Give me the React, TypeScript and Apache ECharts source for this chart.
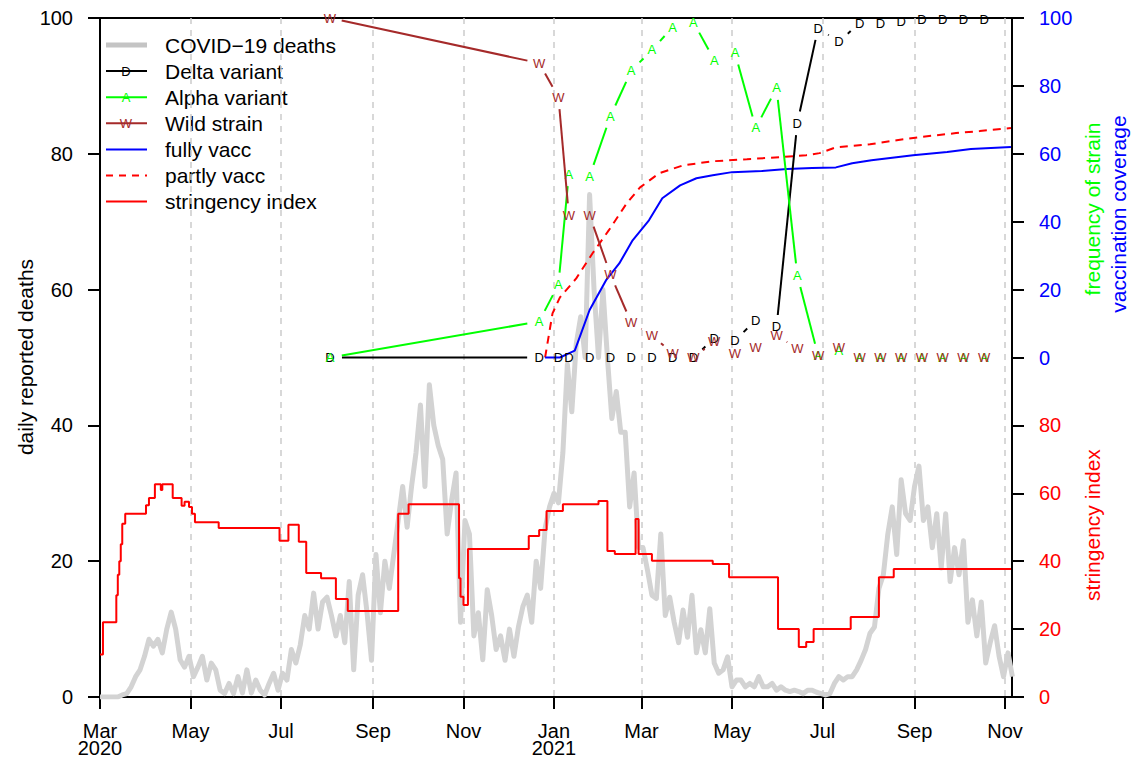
import React, { useEffect, useRef } from "react";
import * as echarts from "echarts";

const FONT = '"Liberation Sans", Arial, Helvetica, sans-serif';

// ---------- data ----------
const monthTicks = ["2020-03-01","2020-05-01","2020-07-01","2020-09-01","2020-11-01","2021-01-01","2021-03-01","2021-05-01","2021-07-01","2021-09-01","2021-11-01"];
const monthLabels = ["Mar\n2020","May","Jul","Sep","Nov","Jan\n2021","Mar","May","Jul","Sep","Nov"];
const leftTicks = [0, 20, 40, 60, 80, 100];
const stringencyTicks = [0, 20, 40, 60, 80];
const coverageTicks = [0, 20, 40, 60, 80, 100];

// daily reported deaths, read every 3 days from 2020-03-01
const deathsStart = "2020-03-01";
const deathsStepDays = 3;
const deaths = [
  0,0,0,0,0,0.3,0.5,1.5,3,4,
  6,8.5,7.5,8.5,6.5,10,12.5,10,5.5,4.4,
  6,3,4.4,6,2.5,5,4,1,0.5,2,
  0.5,3,0.6,4,0.6,2.5,1,0.3,2,3.5,
  1,3.5,2.5,7,5,7.7,12,10,15.3,10,
  14,14.7,12,9,12,8,17,4,15,18,
  12.4,5.4,21,12.4,20,16,21,26,31,25,
  31,36,43,31,46,40,37,35,24,29,
  33,11,26,24,9,12.4,5.5,15.8,12,7,
  9,5.4,10,6,10.3,13.3,15,11,20,16,
  24.8,28,30,28.6,36,49,42,52,56,50,
  74,60,50,60,50,41,45,39,39,28,
  33,22,22,18.7,15,14.5,24,12,14.7,11,
  8,12.8,8.8,15,6.5,9.9,6.5,13,5,3.5,
  4,5.9,1.5,2.5,2.5,1.5,2,1.5,3,1.5,
  1.5,2,1,1.5,1,0.8,1,0.8,0.5,1,
  1,0.7,0.5,0.3,0.5,2,3,2.5,3,3,
  4,5.4,7,9.4,10.3,16,18,24,28,21,
  32,27,26,31,34,26,28,22,27,19,
  27,17,22,18,23,11,14.3,9,14,5,
  8,10.5,6,3,6.5,3
];

// stringency index (change points)
const stringencyDates = [
  "2020-03-01","2020-03-03","2020-03-12","2020-03-13","2020-03-14","2020-03-15","2020-03-16","2020-03-18",
  "2020-04-01","2020-04-03","2020-04-07","2020-04-11","2020-04-12","2020-04-19","2020-04-25","2020-04-27",
  "2020-04-30","2020-05-02","2020-05-04","2020-05-20","2020-06-30","2020-07-06","2020-07-13","2020-07-18",
  "2020-07-28","2020-08-07","2020-08-15","2020-09-18","2020-09-25","2020-10-29","2020-10-30","2020-11-01",
  "2020-11-04","2020-12-15","2020-12-22","2020-12-27","2021-01-07","2021-01-31","2021-02-06","2021-02-11",
  "2021-02-25","2021-02-27","2021-03-08","2021-04-18","2021-04-29","2021-06-01","2021-06-15","2021-06-20",
  "2021-06-25","2021-07-20","2021-08-08","2021-08-18","2021-11-05"
];
const stringencyValues = [
  12.5,22,30,36,40,45,51,54,
  56.5,58.6,62.7,61,62.7,58.6,56.3,57.5,
  56,54,51.5,49.8,46,50.7,45.7,36.5,
  35,28.9,25.3,54,56.8,35,29.5,27.1,
  43.6,47.4,49.2,54.8,56.8,57.7,43,42.1,
  52.4,42.1,40.1,39.2,35.3,20,14.7,16.2,
  20,23.6,35.3,37.7,37.7
];

// vaccination coverage (%)
const fullyDates = ["2020-12-26","2021-01-05","2021-01-15","2021-01-25","2021-02-05","2021-02-14","2021-02-23","2021-03-06","2021-03-15","2021-03-27","2021-04-07","2021-04-18","2021-05-01","2021-05-21","2021-06-07","2021-06-24","2021-07-10","2021-07-21","2021-08-03","2021-08-31","2021-09-23","2021-10-09","2021-11-05"];
const fullyValues = [0,0,2,14,22.7,27.7,34.5,40.4,46.9,50.7,52.8,53.7,54.6,54.9,55.5,55.8,56,57.2,58.1,59.6,60.5,61.4,62];
const partlyDates = ["2020-12-26","2020-12-31","2021-01-05","2021-01-16","2021-01-27","2021-02-07","2021-02-19","2021-02-28","2021-03-13","2021-03-29","2021-04-18","2021-05-11","2021-06-02","2021-06-20","2021-06-29","2021-07-10","2021-08-02","2021-08-20","2021-09-04","2021-09-29","2021-10-15","2021-11-05"];
const partlyValues = [0,13,17.7,23.3,30.7,37.5,45.4,50.1,54.3,56.6,57.8,58.4,59,59.6,60.2,61.9,62.8,64,64.9,66.1,66.7,67.6];

// frequency of strain (%)
const variantDates = ["2020-08-03","2020-12-22","2021-01-04","2021-01-11","2021-01-25","2021-02-08","2021-02-22","2021-03-08","2021-03-22","2021-04-05","2021-04-19","2021-05-03","2021-05-17","2021-05-31","2021-06-14","2021-06-28","2021-07-12","2021-07-26","2021-08-09","2021-08-23","2021-09-06","2021-09-20","2021-10-04","2021-10-18"];
const deltaValues = [0,0,0,0,0,0,0,0,0,0,5.6,5,11,9,69,97,93,98.5,98.5,99,99.5,99.5,99.5,99.5];
const alphaValues = [0,10.6,21.5,54,53.4,71,84.4,90.6,97.3,98.8,87.6,89.7,67.6,79.4,24.2,0.6,2,0,0,0,0,0,0,0];
const wildValues = [100,86.7,76.7,41.9,41.9,24.5,10.3,6.5,1.2,0,4.7,1.2,3,6.5,2.6,0.6,3,0,0,0,0,0,0,0];

// ---------- helpers ----------
const ts = (s: string) => {
  const [y, m, d] = s.split("-").map(Number);
  return new Date(y, m - 1, d).getTime();
};
const pairs = (dates: string[], vals: number[]) => dates.map((d, i) => [ts(d), vals[i]]);

const C_GRAY = "#d3d3d3";
const C_GREEN = "#00ff00";
const C_BROWN = "#a52a2a";
const C_RED = "#ff0000";
const C_BLUE = "#0000ff";

function variantSeries(name: string, values: number[], color: string, letter: string) {
  const pts = pairs(variantDates, values);
  return {
    type: "custom",
    name,
    xAxisIndex: 0,
    yAxisIndex: 3,
    data: pts,
    encode: { x: 0, y: 1 },
    clip: false,
    z: 6,
    renderItem: (params: any, api: any) => {
      const i = params.dataIndex;
      const p = api.coord(pts[i]);
      const children: any[] = [];
      if (i < pts.length - 1) {
        const q = api.coord(pts[i + 1]);
        const dx = q[0] - p[0];
        const dy = q[1] - p[1];
        const len = Math.hypot(dx, dy);
        const gap = 12;
        if (len > 2 * gap) {
          const ux = dx / len, uy = dy / len;
          children.push({
            type: "line",
            shape: { x1: p[0] + ux * gap, y1: p[1] + uy * gap, x2: q[0] - ux * gap, y2: q[1] - uy * gap },
            style: { stroke: color, lineWidth: 2 },
          });
        }
      }
      children.push({
        type: "text",
        x: p[0],
        y: p[1],
        style: { text: letter, fill: color, fontSize: 13, fontFamily: FONT, align: "center", verticalAlign: "middle" },
      });
      return { type: "group", children };
    },
  };
}

export default function App() {
  const ref = useRef<HTMLDivElement>(null);

  useEffect(() => {
    if (!ref.current) return;
    const chart = echarts.init(ref.current, null, { renderer: "svg" });
    const monthTickTs = monthTicks.map(ts);
    const deathsData = deaths.map((v, i) => {
      const [y, m, d] = deathsStart.split("-").map(Number);
      return [new Date(y, m - 1, d + i * deathsStepDays).getTime(), v];
    });

    const legendRows = [
      { label: "COVID\u221219 deaths", color: "#c4c4c4", width: 5 },
      { label: "Delta variant", color: "#000000", width: 2, mark: "D" },
      { label: "Alpha variant", color: C_GREEN, width: 2, mark: "A" },
      { label: "Wild strain", color: C_BROWN, width: 2, mark: "W" },
      { label: "fully vacc", color: C_BLUE, width: 2 },
      { label: "partly vacc", color: C_RED, width: 2, dash: [7, 6] },
      { label: "stringency index", color: C_RED, width: 2 },
    ];
    const legendEls: any[] = [];
    legendRows.forEach((r: any, i) => {
      const cy = 45 + i * 26.1;
      legendEls.push({
        type: "line",
        shape: { x1: 106, y1: cy, x2: 147, y2: cy },
        style: { stroke: r.color, lineWidth: r.width, lineDash: r.dash || null },
      });
      if (r.mark) {
        legendEls.push({
          type: "text", x: 126, y: cy,
          style: { text: r.mark, fill: r.color, fontSize: 13, fontFamily: FONT, align: "center", verticalAlign: "middle" },
        });
      }
      legendEls.push({
        type: "text", x: 165, y: cy,
        style: { text: r.label, fill: "#000", fontSize: 21, fontFamily: FONT, align: "left", verticalAlign: "middle" },
      });
    });

    const titleEls: any[] = [
      { type: "text", x: 25, y: 357, rotation: Math.PI / 2,
        style: { text: "daily reported deaths", fill: "#000", fontSize: 21, fontFamily: FONT, align: "center", verticalAlign: "middle" } },
      { type: "text", x: 1092, y: 209, rotation: Math.PI / 2,
        style: { text: "frequency of strain", fill: C_GREEN, fontSize: 21, fontFamily: FONT, align: "center", verticalAlign: "middle" } },
      { type: "text", x: 1118, y: 214, rotation: Math.PI / 2,
        style: { text: "vaccination coverage", fill: C_BLUE, fontSize: 21, fontFamily: FONT, align: "center", verticalAlign: "middle" } },
      { type: "text", x: 1092, y: 525, rotation: Math.PI / 2,
        style: { text: "stringency index", fill: C_RED, fontSize: 21, fontFamily: FONT, align: "center", verticalAlign: "middle" } },
    ];

    const option: any = {
      animation: false,
      backgroundColor: "#ffffff",
      grid: {
        left: 100, right: 129, top: 18, bottom: 64,
        show: true, borderColor: "#000", borderWidth: 2, backgroundColor: "transparent",
        containLabel: false, outerBoundsMode: "none",
      },
      xAxis: {
        type: "value",
        min: ts("2020-03-01"),
        max: new Date(2021, 10, 5, 17).getTime(),
        axisLine: { show: true, lineStyle: { color: "#000", width: 2 } },
        axisTick: { show: true, customValues: monthTickTs, length: 12, lineStyle: { color: "#000", width: 2 } },
        axisLabel: {
          customValues: monthTickTs,
          formatter: (v: number) => {
            const idx = monthTickTs.indexOf(v);
            return idx >= 0 ? monthLabels[idx] : "";
          },
          fontSize: 20, lineHeight: 17, color: "#000", fontFamily: FONT, margin: 25,
        },
        splitLine: { show: true, lineStyle: { color: "#cccccc", type: [6, 6], width: 1.5 } },
      },
      yAxis: [
        {
          type: "value", position: "left", min: 0, max: 100, interval: 20,
          axisLine: { show: true, lineStyle: { color: "#000", width: 2 } },
          axisTick: { show: true, length: 12, lineStyle: { color: "#000", width: 2 } },
          axisLabel: {
            fontSize: 20, color: "#000", fontFamily: FONT, margin: 27,
            formatter: (v: number) => String(leftTicks[Math.round(v / 20)]),
          },
          splitLine: { show: false },
        },
        {
          type: "value", position: "right", min: 0, max: 100, interval: 10,
          axisLine: { show: true, lineStyle: { color: "#000", width: 2 } },
          axisTick: { show: true, length: 12, lineStyle: { color: "#000", width: 2 } },
          axisLabel: {
            margin: 27,
            formatter: (v: number) => {
              const idx = Math.round(v / 10);
              return idx < stringencyTicks.length
                ? `{r|${stringencyTicks[idx]}}`
                : `{b|${coverageTicks[idx - stringencyTicks.length]}}`;
            },
            rich: {
              r: { color: C_RED, fontSize: 20, fontFamily: FONT },
              b: { color: C_BLUE, fontSize: 20, fontFamily: FONT },
            },
          },
          splitLine: { show: false },
        },
        { type: "value", min: 0, max: 200, show: false },
        { type: "value", min: -100, max: 100, show: false },
      ],
      graphic: [...legendEls, ...titleEls],
      series: [
        {
          type: "line", name: "COVID-19 deaths", data: deathsData, yAxisIndex: 0,
          showSymbol: false, symbol: "none",
          lineStyle: { color: C_GRAY, width: 5, join: "round" }, z: 1,
        },
        {
          type: "line", name: "stringency index", data: pairs(stringencyDates, stringencyValues), yAxisIndex: 2,
          step: "end", showSymbol: false, symbol: "none",
          lineStyle: { color: C_RED, width: 2 }, z: 2,
        },
        {
          type: "line", name: "partly vacc", data: pairs(partlyDates, partlyValues), yAxisIndex: 3,
          showSymbol: false, symbol: "none",
          lineStyle: { color: C_RED, width: 2, type: [8, 6] }, z: 3,
        },
        {
          type: "line", name: "fully vacc", data: pairs(fullyDates, fullyValues), yAxisIndex: 3,
          showSymbol: false, symbol: "none",
          lineStyle: { color: C_BLUE, width: 2 }, z: 3,
        },
        variantSeries("Delta variant", deltaValues, "#000000", "D"),
        variantSeries("Alpha variant", alphaValues, C_GREEN, "A"),
        variantSeries("Wild strain", wildValues, C_BROWN, "W"),
      ],
    };
    chart.setOption(option);
    return () => chart.dispose();
  }, []);

  return (
    <div
      ref={ref}
      style={{ position: "absolute", left: 0, top: 0, width: 1141, height: 761, background: "#fff" }}
    />
  );
}
